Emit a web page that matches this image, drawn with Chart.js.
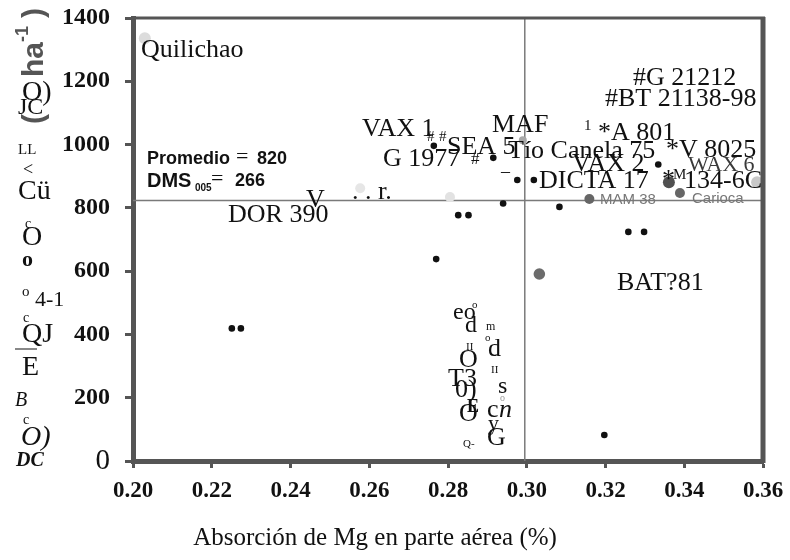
<!DOCTYPE html>
<html>
<head>
<meta charset="utf-8">
<script src="https://cdn.jsdelivr.net/npm/chart.js@4.4.1/dist/chart.umd.min.js"></script>
<style>
  html, body { margin: 0; background: #fff; }
</style>
</head>
<body>
<canvas id="chart" width="790" height="560"></canvas>
<script>
// Mg uptake (%) vs. yield (kg/ha)
const blackMg    = [0.2251, 0.2274, 0.2770, 0.2764, 0.2826, 0.2852, 0.2915, 0.2976, 0.3018, 0.2940, 0.3083, 0.3334, 0.3258, 0.3298, 0.3197]
const blackYield = [419, 419, 638, 996, 777, 777, 958, 888, 888, 814, 803, 937, 724, 724, 82]

const grayMg    = [0.3159, 0.3389, 0.3361, 0.3032]
const grayYield = [828, 847, 881, 591]

const faintMg    = [0.2030, 0.2990, 0.3585, 0.2577, 0.2805]
const faintYield = [1336, 1014, 881, 862, 834]

const xTicks = [0.20, 0.22, 0.24, 0.26, 0.28, 0.30, 0.32, 0.34, 0.36]
const yTicks = [0, 200, 400, 600, 800, 1000, 1200, 1400]

const meanYield = 823
const meanMg = 0.2995

const SERIF = '"Liberation Serif", "Times New Roman", serif'
const SANS = '"Liberation Sans", Arial, sans-serif'

const pts = (xs, ys) => xs.map((x, i) => ({ x, y: ys[i] }))

// text overlays, [text, x, y(middle), font, color]
const plotLabels = [
  ["Quilichao", 141, 50],
  ["VAX 1", 362, 129],
  ["#", 427, 137, "15px " + SERIF],
  ["G 1977", 383, 159],
  ["#", 471, 160, "17px " + SERIF],
  ["#", 439, 137, "15px " + SERIF],
  ["SEA 5", 447, 147],
  ["MAF", 492, 125],
  ["Tío Canela 75", 508, 151],
  ["*V 8025", 666, 150],
  ["1", 584, 126, "15px " + SERIF],
  ["*A 801", 598, 133],
  ["#G 21212", 633, 78],
  ["#BT 21138-98", 605, 99],
  ["VAX 2", 572, 164],
  ["WAX 6", 688, 165, "22px " + SERIF, "#3a3a3a"],
  ["–", 501, 172, "18px " + SERIF],
  ["DICTA 17", 539, 181],
  ["*", 662, 180],
  ["M", 673, 175, "15px " + SERIF],
  ["134-6C", 684, 181],
  ["MAM 38", 600, 200, "15px " + SANS, "#777"],
  ["Carioca", 692, 199, "15px " + SANS, "#777"],
  ["DOR 390", 228, 215],
  ["V", 306, 200],
  [". . r.", 352, 192],
  ["BAT?81", 617, 283],
  ["Promedio", 147, 159, "bold 18px " + SANS],
  ["=", 236, 157, "22px " + SERIF],
  ["820", 257, 159, "bold 18px " + SANS],
  ["DMS", 147, 181, "bold 20px " + SANS],
  ["005", 195, 188, "bold 10px " + SANS],
  ["=", 211, 179, "22px " + SERIF],
  ["266", 235, 181, "bold 18px " + SANS],
  // garbled vertical label in the middle of the plot
  ["eo", 453, 313, "24px " + SERIF],
  ["o", 472, 305, "11px " + SERIF],
  ["d", 465, 326, "24px " + SERIF],
  ["m", 486, 327, "12px " + SERIF],
  ["o", 485, 338, "11px " + SERIF],
  ["d", 488, 349, "26px " + SERIF],
  ["II", 466, 347, "11px " + SERIF],
  ["O", 459, 360, "26px " + SERIF],
  ["II", 491, 370, "11px " + SERIF],
  ["T3", 448, 379, "26px " + SERIF],
  ["0)", 455, 390, "26px " + SERIF],
  ["s", 498, 387, "24px " + SERIF],
  ["o", 500, 398, "10px " + SERIF, "#999"],
  ["E", 467, 407, "bold 18px " + SERIF],
  ["O", 459, 414, "26px " + SERIF],
  ["c", 487, 410, "26px " + SERIF],
  ["n", 499, 410, "italic 26px " + SERIF],
  ["y", 488, 424, "22px " + SERIF],
  ["Q-", 463, 444, "11px " + SERIF],
  ["G", 487, 438, "26px " + SERIF]
]

// garbled left column (scan artefacts of the y title)
const sideLabels = [
  ["O)", 22, 93, "28px " + SERIF],
  ["JC", 18, 108, "24px " + SERIF],
  ["LL", 18, 150, "15px " + SERIF],
  ["<", 23, 170, "18px " + SERIF],
  ["Cü", 18, 192, "28px " + SERIF],
  ["c", 25, 224, "14px " + SERIF],
  ["O", 22, 238, "28px " + SERIF],
  ["o", 22, 260, "bold 22px " + SERIF],
  ["o", 22, 292, "15px " + SERIF],
  ["4-1", 35, 300, "22px " + SERIF],
  ["c", 23, 318, "14px " + SERIF],
  ["QJ", 22, 335, "28px " + SERIF],
  ["E", 22, 368, "28px " + SERIF],
  ["B", 15, 401, "italic 20px " + SERIF],
  ["c", 23, 420, "14px " + SERIF],
  ["O)", 21, 438, "italic 28px " + SERIF],
  ["DC", 16, 461, "italic bold 20px " + SERIF]
]

function drawText(ctx, t, x, y, font, color) {
  ctx.font = font || ("26px " + SERIF)
  ctx.fillStyle = color || "#111"
  ctx.textAlign = "left"
  ctx.textBaseline = "middle"
  ctx.fillText(t, x, y)
}

const decor = {
  id: "decor",
  beforeDatasetsDraw(chart) {
    const { ctx, chartArea: a, scales } = chart
    ctx.save()
    ctx.strokeStyle = "#7a7a7a"
    ctx.lineWidth = 1.5
    const yy = scales.y.getPixelForValue(meanYield)
    ctx.beginPath(); ctx.moveTo(a.left, yy); ctx.lineTo(a.right, yy); ctx.stroke()
    const xx = scales.x.getPixelForValue(meanMg)
    ctx.beginPath(); ctx.moveTo(xx, a.top); ctx.lineTo(xx, a.bottom); ctx.stroke()
    ctx.restore()
  },
  afterDraw(chart) {
    const { ctx, chartArea: a } = chart
    ctx.save()
    // top and right frame
    ctx.strokeStyle = "#555"
    ctx.lineWidth = 3
    ctx.beginPath(); ctx.moveTo(a.left - 2, a.top); ctx.lineTo(a.right + 2, a.top); ctx.stroke()
    ctx.lineWidth = 5
    ctx.beginPath(); ctx.moveTo(a.right, a.top - 1); ctx.lineTo(a.right, a.bottom + 2); ctx.stroke()

    plotLabels.forEach(l => drawText(ctx, l[0], l[1], l[2], l[3], l[4]))
    sideLabels.forEach(l => drawText(ctx, l[0], l[1], l[2], l[3], l[4]))
    ctx.strokeStyle = "#888"; ctx.lineWidth = 2
    ctx.beginPath(); ctx.moveTo(15, 349); ctx.lineTo(37, 349); ctx.stroke()

    // y title fragment, rotated
    const rot = (t, x, y, font) => {
      ctx.save(); ctx.translate(x, y); ctx.rotate(-Math.PI / 2)
      ctx.font = font; ctx.fillStyle = "#555"; ctx.textAlign = "left"; ctx.textBaseline = "alphabetic"
      ctx.fillText(t, 0, 0); ctx.restore()
    }
    rot("(", 43, 124, "bold 30px " + SANS)
    rot("ha", 43, 77, "bold 30px " + SANS)
    rot("-1", 28, 42, "bold 18px " + SANS)
    rot(")", 43, 18, "bold 30px " + SANS)

    // x title
    ctx.font = "25px " + SERIF
    ctx.fillStyle = "#111"
    ctx.textAlign = "center"
    ctx.textBaseline = "middle"
    ctx.fillText("Absorción de Mg en parte aérea (%)", 375, 538)
    ctx.restore()
  }
}

new Chart(document.getElementById("chart"), {
  type: "scatter",
  data: {
    datasets: [
      { data: pts(faintMg, faintYield), pointRadius: [6, 4, 6, 5, 5], pointBackgroundColor: ["#dcdcdc", "#a8a8a8", "#c8c8c8", "#e6e6e6", "#e2e2e2"], pointBorderWidth: 0 },
      { data: pts(grayMg, grayYield), pointRadius: [5, 5, 6, 5.8], pointBackgroundColor: ["#666", "#666", "#505050", "#6c6c6c"], pointBorderWidth: 0 },
      { data: pts(blackMg, blackYield), pointRadius: 3.3, pointBackgroundColor: "#111", pointBorderWidth: 0 }
    ]
  },
  options: {
    responsive: false,
    animation: false,
    layout: { padding: { left: 0, right: 27, top: 18, bottom: 39 } },
    plugins: { legend: { display: false }, tooltip: { enabled: false } },
    scales: {
      x: {
        type: "linear",
        min: xTicks[0],
        max: xTicks[xTicks.length - 1],
        afterBuildTicks: s => { s.ticks = xTicks.map(v => ({ value: v })) },
        afterFit: s => { s.height = 60; s.paddingLeft = 0; s.paddingRight = 0 },
        ticks: {
          callback: v => Number(v).toFixed(2),
          color: "#111",
          padding: 9,
          maxRotation: 0,
          font: { family: SERIF, size: 23, weight: "bold" }
        },
        grid: { drawOnChartArea: false, tickLength: 7, tickWidth: 3, tickColor: "#555" },
        border: { color: "#555", width: 5 }
      },
      y: {
        min: yTicks[0],
        max: yTicks[yTicks.length - 1],
        afterBuildTicks: s => { s.ticks = yTicks.map(v => ({ value: v })) },
        afterFit: s => { s.width = 133; s.paddingTop = 0; s.paddingBottom = 0 },
        ticks: {
          callback: v => String(v),
          color: "#111",
          padding: 15,
          font: ctx => ctx.tick && ctx.tick.value === 0
            ? { family: SERIF, size: 29, weight: "normal" }
            : { family: SERIF, size: 24, weight: "bold" }
        },
        grid: { drawOnChartArea: false, tickLength: 8, tickWidth: 3, tickColor: "#555" },
        border: { color: "#555", width: 5 }
      }
    }
  },
  plugins: [decor]
})
</script>
</body>
</html>
